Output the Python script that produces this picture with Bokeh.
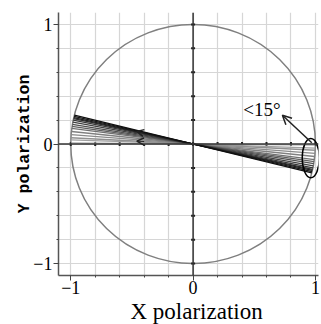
from bokeh.plotting import figure
from bokeh.models import FixedTicker, Span, Arrow, OpenHead, Label, Range1d, Title
from bokeh.embed import file_html
from bokeh.resources import INLINE
import math

# Data: fan of polarization directions (degrees below horizontal on right side)
angles_deg = [0.5, 2.0, 3.0, 4.5, 6.0, 7.5, 8.5, 9.5, 10.5, 11.5, 12.2, 12.8, 13.4, 14.0]
line_grays = ["#b0b0b0", "#a0a0a0", "#909090", "#8a8a8a", "#808080", "#707070", "#606060",
              "#505050", "#404040", "#383838", "#303030", "#202020", "#181818", "#101010"]
major_ticks = [-1, 0, 1]
grid_ticks = [-1.0, -0.8, -0.6, -0.4, -0.2, 0.0, 0.2, 0.4, 0.6, 0.8, 1.0]
angle_label = "<15°"
x_label = "X polarization"
y_label = "Y polarization"

p = figure(width=321, height=324, output_backend="svg", toolbar_location=None,
           x_range=Range1d(-1.1, 1.025), y_range=Range1d(-1.1, 1.1),
           min_border_left=58, min_border_right=3, min_border_top=12, min_border_bottom=49)
p.outline_line_color = None
p.background_fill_color = "white"

for g in (p.xgrid, p.ygrid):
    g.ticker = FixedTicker(ticks=grid_ticks)
    g.grid_line_color = "#d6d6d6"
    g.grid_line_width = 1.2

for ax in (p.xaxis, p.yaxis):
    ax.ticker = FixedTicker(ticks=major_ticks, minor_ticks=grid_ticks)
    ax.major_label_overrides = {-1: "−1", 0: "0", 1: "1"}
    ax.major_label_text_font = "Liberation Serif"
    ax.major_label_text_font_size = "18px"
    ax.major_label_text_color = "black"
    ax.axis_line_color = "#555555"
    ax.axis_line_width = 1.5
    ax.major_tick_line_color = "#444444"
    ax.major_tick_in = 0
    ax.major_tick_out = 5
    ax.minor_tick_line_color = "#444444"
    ax.minor_tick_in = 0
    ax.minor_tick_out = 2
    ax.major_label_standoff = 1

p.xaxis.major_label_standoff = 0
p.yaxis.axis_label = y_label
p.yaxis.axis_label_text_font = "Liberation Mono"
p.yaxis.axis_label_text_font_style = "bold"
p.yaxis.axis_label_text_font_size = "16.5px"
p.yaxis.axis_label_text_color = "black"
p.yaxis.axis_label_standoff = -4
p.xaxis.axis_label = None

p.add_layout(Title(text=x_label, text_font="Liberation Serif", text_font_style="normal",
                   text_font_size="23px", align="left", offset=72, standoff=0,
                   text_color="black"), "below")

# unit circle
p.ellipse(x=[0], y=[0], width=[2], height=[2], fill_color=None,
          line_color="#808080", line_width=1.5)

# centre lines with small tick marks
p.add_layout(Span(location=0, dimension="height", line_color="#333333", line_width=1.5))
p.add_layout(Span(location=0, dimension="width", line_color="#333333", line_width=1.5))
p.scatter(x=[0] * len(grid_ticks), y=grid_ticks, marker="dash", size=4,
          line_color="#222222", line_width=2)
p.scatter(x=grid_ticks, y=[0] * len(grid_ticks), marker="dash", angle=math.pi / 2, size=4,
          line_color="#222222", line_width=2)

# fan of lines
x0 = [-math.cos(math.radians(a)) for a in angles_deg]
y0 = [math.sin(math.radians(a)) for a in angles_deg]
x1 = [math.cos(math.radians(a)) for a in angles_deg]
y1 = [-math.sin(math.radians(a)) for a in angles_deg]
p.segment(x0=x0, y0=y0, x1=x1, y1=y1, line_color=line_grays, line_width=1.3)

# small direction arrowheads on the fan
for a in (12.8, 3.0):
    t = math.tan(math.radians(a))
    p.add_layout(Arrow(end=OpenHead(size=7, line_color="#222222", line_width=1.5),
                       x_start=-0.40, y_start=0.40 * t, x_end=-0.46, y_end=0.46 * t,
                       line_color="#222222", line_width=1))

# ellipse highlighting right-hand end
p.ellipse(x=[0.962], y=[-0.118], width=[0.14], height=[0.33], fill_color=None,
          line_color="black", line_width=1.5)

# arrow to angle label
p.add_layout(Arrow(end=OpenHead(size=9, line_color="#222222", line_width=1.5),
                   x_start=0.97, y_start=0.01, x_end=0.73, y_end=0.24,
                   line_color="#222222", line_width=1.5))
p.add_layout(Label(x=0.41, y=0.285, text=angle_label, text_font="Liberation Serif",
                   text_font_size="19px", text_baseline="middle", text_color="black"))

open("out.html", "w").write(file_html(p, INLINE))
